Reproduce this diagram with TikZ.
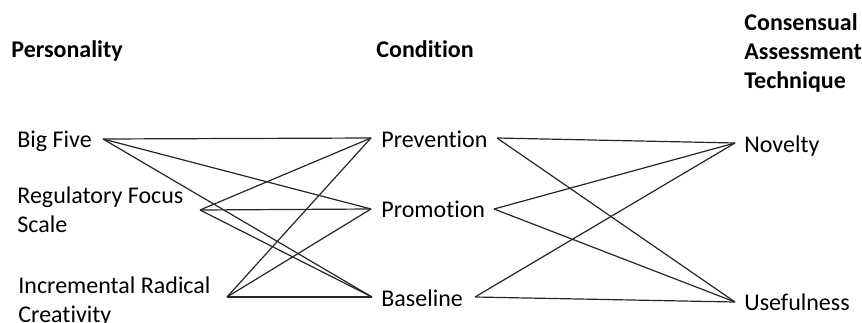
\documentclass[tikz,border=0pt]{standalone}
\usepackage{fontspec}
\setmainfont[Ligatures=NoCommon]{Carlito}

\begin{document}
\begin{tikzpicture}[x=0.5pt, y=-0.5pt,
    txt/.style={font=\fontsize{12}{14.5}\selectfont, inner sep=0pt, anchor=base west, align=left},
    head/.style={txt, font=\fontsize{12}{14.5}\selectfont\bfseries},
    link/.style={line width=0.6pt, black!85}]
  \useasboundingbox (0,0) rectangle (862,322);

  % Column headings (multi-line texts sit on their last line)
  \node[head] (hpers) at (11,57) {Personality};
  \node[head] (hcond) at (376,57) {Condition};
  \node[head] (hcat) at (744,88) {Consensual\\Assessment\\Technique};

  % Personality measures
  \node[txt] (bigfive) at (17,147) {Big Five};
  \node[txt] (regfocus) at (17,232) {Regulatory Focus\\Scale};
  \node[txt] (incrad) at (18,322) {Incremental Radical\\Creativity};

  % Conditions
  \node[txt] (prev) at (381,147) {Prevention};
  \node[txt] (prom) at (381,217) {Promotion};
  \node[txt] (base) at (381,306) {Baseline};

  % Assessment criteria
  \node[txt] (nov) at (744,152) {Novelty};
  \node[txt] (use) at (744,310) {Usefulness};

  % Line ends beside the labels
  \coordinate (bigfive-o) at (103,139);
  \coordinate (regfocus-o) at (200,210);
  \coordinate (incrad-o) at (227,297);
  \coordinate (prev-i) at (371,138);
  \coordinate (prom-i) at (371,209);
  \coordinate (base-i) at (372,297);
  \coordinate (prev-o) at (497,138);
  \coordinate (prom-o) at (494,209);
  \coordinate (base-o) at (475,297);
  \coordinate (nov-i) at (735,143);
  \coordinate (use-i) at (735,302);

  % Every measure goes to every condition
  \foreach \p in {bigfive,regfocus,incrad} {
      \foreach \c in {prev,prom,base} {
          \draw[link] (\p-o) -- (\c-i);
        }
    }

  % Every condition goes to both criteria
  \foreach \c in {prev,prom,base} {
      \foreach \r in {nov,use} {
          \draw[link] (\c-o) -- (\r-i);
        }
    }

\end{tikzpicture}
\end{document}
